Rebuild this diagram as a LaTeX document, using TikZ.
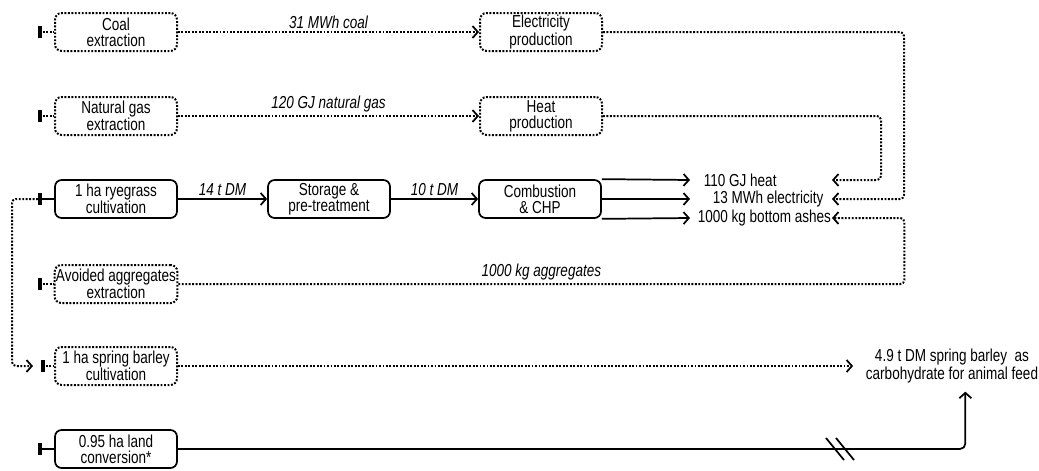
\documentclass[tikz,border=0pt]{standalone}
\usepackage{fontspec}
\setmainfont{Liberation Sans}[FakeStretch=0.78]
\usetikzlibrary{arrows.meta, positioning, calc}

\begin{document}
\begin{tikzpicture}[x=0.75pt, y=-0.75pt, line width=1.3pt,
    >={Straight Barb[length=4pt, width=9pt, line width=1.3pt]},
    font=\fontsize{13}{12}\selectfont,
    procbox/.style={rectangle, draw, rounded corners=5pt, minimum width=91.5pt,
                    minimum height=28.5pt, align=center, inner sep=1pt},
    dotline/.style={line width=1.5pt, dash pattern=on 1.4pt off 1.2pt},
    dotbox/.style={procbox, dotline},
    intick/.style={{Bar[width=9pt, line width=1.4pt]Bar[width=9pt, line width=1.4pt]}-},
    amount/.style={font=\fontsize{13}{12}\selectfont\itshape, inner sep=2pt},
    outlbl/.style={anchor=west, inner sep=0pt}]

    \useasboundingbox (0,0) rectangle (1039,471);

    % Process boxes - left column
    \node[dotbox] (coal) at (116,32) {Coal\\extraction};
    \node[dotbox] (gas) at (116,116) {Natural gas\\extraction};
    \node[procbox] (rye) at (116,199) {1 ha ryegrass\\cultivation};
    \node[dotbox] (aggr) at (116,284) {Avoided aggregates\\extraction};
    \node[dotbox] (barley) at (116,366) {1 ha spring barley\\cultivation};
    \node[procbox] (landconv) at (116,449) {0.95 ha land\\conversion*};

    % Process boxes - middle
    \node[dotbox] (elprod) at (541,32) {Electricity\\production};
    \node[dotbox] (heatprod) at (541,116) {Heat\\production};
    \node[procbox] (storage) at (329,199) {Storage \&\\pre-treatment};
    \node[procbox] (chp) at (540,199) {Combustion\\\& CHP};

    % Products
    \node[outlbl] (heat) at (703,180) {110 GJ heat};
    \node[outlbl] (elec) at (712,199) {13 MWh electricity};
    \node[outlbl] (ash) at (697,218) {1000 kg bottom ashes};
    \node[align=center, inner xsep=9pt, inner ysep=6pt] (feed) at (952,366)
        {4.9 t DM spring barley\ \ as\\carbohydrate for animal feed};

    % Free ends
    \coordinate (coalin) at (38,32);
    \coordinate (gasin) at (38,116);
    \coordinate (ryein) at (38,199);
    \coordinate (aggrin) at (38,284);
    \coordinate (barleyin) at (41,366);
    \coordinate (barleyarr) at (33,366);
    \coordinate (landin) at (38,449);
    \coordinate (heatL) at (690,180);
    \coordinate (elecL) at (690,199);
    \coordinate (ashL) at (690,218);
    \coordinate (heatR) at (832,180);
    \coordinate (elecR) at (832,199);
    \coordinate (ashR) at (832,218);
    \coordinate (brk) at (843,449);

    % Inputs
    \draw[dotline, intick] (coalin) -- (coal);
    \draw[dotline, intick] (gasin) -- (gas);
    \draw[intick] (ryein) -- (rye);
    \draw[dotline, intick] (aggrin) -- (aggr);
    \draw[dotline, intick] (barleyin) -- (barley);
    \draw[intick] (landin) -- (landconv);
    \draw[dotline, ->, rounded corners=3pt] (ryein) -- ++(-26,0) |- (barleyarr);

    % Main chain
    \draw[->] (rye) -- (storage) node[midway, above, amount] {14 t DM};
    \draw[->] (storage) -- (chp) node[midway, above, amount] {10 t DM};
    \draw[->] (chp.north east) -- (heatL);
    \draw[->] (chp.east) -- (elecL);
    \draw[->] (chp.south east) -- (ashL);

    % Avoided products
    \draw[dotline, ->] (coal) -- (elprod) node[midway, above, amount] {31 MWh coal};
    \draw[dotline, ->] (gas) -- (heatprod) node[midway, above, amount] {120 GJ natural gas};
    \draw[dotline, ->, rounded corners=3pt] (elprod.east) -- ++(301,0) |- (elecR);
    \draw[dotline, ->, rounded corners=3pt] (heatprod.east) -- ++(278,0) |- (heatR);
    \draw[dotline, ->, rounded corners=3pt] (aggr.east) -- ++(726,0)
        node[midway, above, amount] {1000 kg aggregates} |- (ashR);
    \draw[dotline, ->] (barley) -- (feed);

    % Land use
    \draw[->, rounded corners=4pt] (landconv) -| ([xshift=10pt]feed.south);
    \draw ([shift={(-17,-11)}]brk) -- ([shift={(1,11)}]brk);
    \draw ([shift={(-7,-11)}]brk) -- ([shift={(11,11)}]brk);

\end{tikzpicture}
\end{document}
